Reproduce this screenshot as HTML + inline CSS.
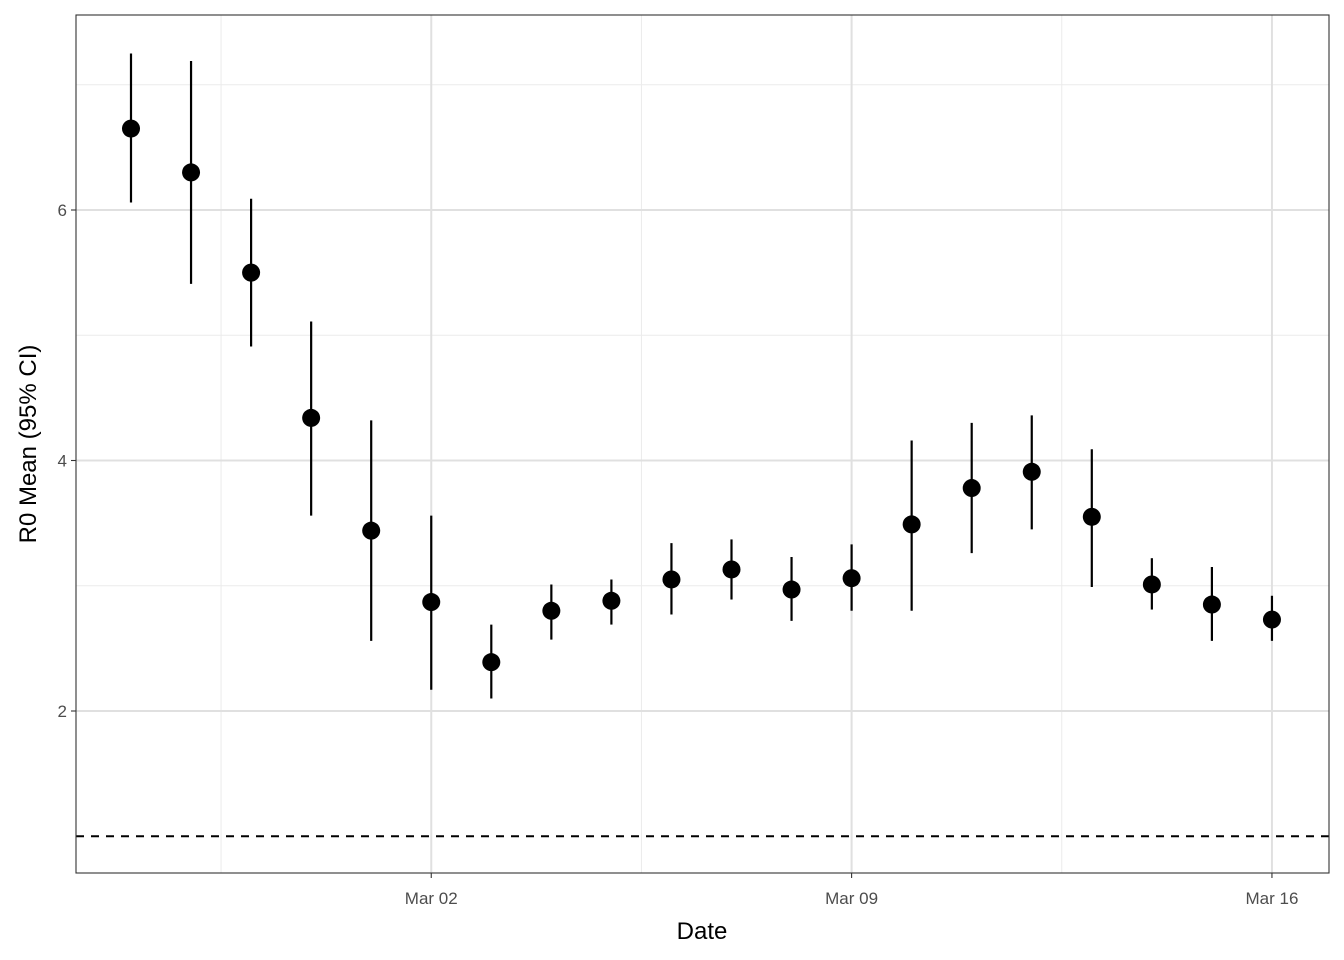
<!DOCTYPE html>
<html><head><meta charset="utf-8"><style>
html,body{margin:0;padding:0;background:#fff;}
svg{display:block;font-family:"Liberation Sans",Arial,sans-serif;}
</style></head><body>
<svg id="chart" width="1344" height="960" viewBox="0 0 1344 960">
<g id="grid"></g>
<g id="marks"></g>
<rect x="76" y="15" width="1253" height="858" fill="none" stroke="#333" stroke-width="1.1"/>
<g id="axes"></g>
<text x="702" y="939" font-size="24" text-anchor="middle" fill="#000">Date</text>
<text transform="translate(36,444) rotate(-90)" font-size="24" text-anchor="middle" fill="#000">R0 Mean (95% CI)</text>
</svg>
<script>
const dayOffsets = [0,1,2,3,4,5,6,7,8,9,10,11,12,13,14,15,16,17,18,19];
const means = [6.65,6.30,5.50,4.34,3.44,2.87,2.39,2.80,2.88,3.05,3.13,2.97,3.06,3.49,3.78,3.91,3.55,3.01,2.85,2.73];
const upper = [7.25,7.19,6.09,5.11,4.32,3.56,2.69,3.01,3.05,3.34,3.37,3.23,3.33,4.16,4.30,4.36,4.09,3.22,3.15,2.92];
const lower = [6.06,5.41,4.91,3.56,2.56,2.17,2.10,2.57,2.69,2.77,2.89,2.72,2.80,2.80,3.26,3.45,2.99,2.81,2.56,2.56];
const yTicks = [2,4,6];
const yMinor = [3,5,7];
const xTickDays = [5,12,19];
const xTickLabels = ["Mar 02","Mar 09","Mar 16"];
const xMinorDays = [1.5,8.5,15.5];
const refValue = 1;

const NS="http://www.w3.org/2000/svg";
const L=76,R=1329,T=15,B=873;
const xs=d=>131+d*60.05;
const ys=v=>711-(v-2)*125.25;
function mk(tag,attrs,parent){const e=document.createElementNS(NS,tag);for(const k in attrs)e.setAttribute(k,attrs[k]);parent.appendChild(e);return e;}
const grid=document.getElementById('grid'),marks=document.getElementById('marks'),axes=document.getElementById('axes');
yMinor.forEach(v=>{const e=mk('line',{x1:L,x2:R,y1:ys(v),y2:ys(v),stroke:'#ebebeb','stroke-width':1},grid);

});
xMinorDays.forEach(d=>{const e=mk('line',{x1:xs(d),x2:xs(d),y1:T,y2:B,stroke:'#ebebeb','stroke-width':1},grid);

});
yTicks.forEach(v=>{const e=mk('line',{x1:L,x2:R,y1:ys(v),y2:ys(v),stroke:'#e0e0e0','stroke-width':2},grid);


const t=mk('line',{x1:L-5,x2:L,y1:ys(v),y2:ys(v),stroke:'#333','stroke-width':1.1},axes);


const l=mk('text',{x:L-9,y:ys(v)+6,'font-size':17,'text-anchor':'end',fill:'#4d4d4d'},axes);l.textContent=v;

});
xTickDays.forEach((d,i)=>{const e=mk('line',{x1:xs(d),x2:xs(d),y1:T,y2:B,stroke:'#e0e0e0','stroke-width':2},grid);


const t=mk('line',{x1:xs(d),x2:xs(d),y1:B,y2:B+5,stroke:'#333','stroke-width':1.1},axes);


const l=mk('text',{x:xs(d),y:B+31,'font-size':17,'text-anchor':'middle',fill:'#4d4d4d'},axes);l.textContent=xTickLabels[i];

});
const ref=mk('line',{x1:L,x2:R,y1:ys(refValue),y2:ys(refValue),stroke:'#000','stroke-width':2,'stroke-dasharray':'8,7'},marks);


dayOffsets.forEach((d,i)=>{
const eb=mk('line',{x1:xs(d),x2:xs(d),y1:ys(upper[i]),y2:ys(lower[i]),stroke:'#000','stroke-width':2.2},marks);


const p=mk('circle',{cx:xs(d),cy:ys(means[i]),r:9,fill:'#000'},marks);

});
</script>
</body></html>
